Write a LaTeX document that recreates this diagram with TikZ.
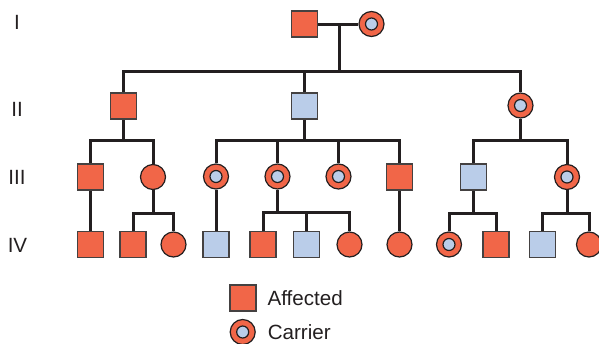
\documentclass[tikz,border=0pt]{standalone}
\usepackage{fontspec}
\setmainfont{Liberation Sans}
\usetikzlibrary{positioning, backgrounds}
\definecolor{pedRed}{RGB}{241, 102, 72}
\definecolor{pedBlue}{RGB}{186, 205, 233}
\definecolor{pedLine}{RGB}{35, 31, 32}
\tikzset{
    male/.style={rectangle, draw=pedLine!85, line width=0.6pt, minimum size=13pt, inner sep=0pt},
    female/.style={circle, draw=pedLine, line width=0.6pt, minimum size=12.5pt, inner sep=0pt},
    affected/.style={fill=pedRed},
    unaffected/.style={fill=pedBlue},
    carrier/.style={female, fill=pedRed,
        path picture={\filldraw[fill=pedBlue, draw=pedLine, line width=0.6pt]
            (path picture bounding box.center) circle (3pt);}},
    link/.style={line width=1.5pt, pedLine},
    genLabel/.style={font=\fontsize{10.3}{12}\selectfont, text=pedLine},
}

\begin{document}
\begin{tikzpicture}[x=0.5pt, y=-0.5pt]
    \useasboundingbox (0,0) rectangle (599,343);

    % Generation labels
    \node[genLabel] (genI) at (17,22) {I};
    \node[genLabel] (genII) at (17,109) {II};
    \node[genLabel] (genIII) at (17,177.5) {III};
    \node[genLabel] (genIV) at (17.5,245.5) {IV};

    % Generation I
    \node[male, affected] (i1) at (304.5,24) {};
    \node[carrier] (i2) at (371.5,24) {};

    % Generation II
    \node[male, affected] (ii1) at (123.5,106) {};
    \node[male, unaffected] (ii2) at (304.5,106) {};
    \node[carrier] (ii3) at (520.5,105.5) {};

    % Generation III
    \node[male, affected] (iii1) at (90.5,177) {};
    \node[female, affected] (iii2) at (153,177) {};
    \node[carrier] (iii3) at (216,176.5) {};
    \node[carrier] (iii4) at (277.5,176.5) {};
    \node[carrier] (iii5) at (338.5,176.5) {};
    \node[male, affected] (iii6) at (399.5,177) {};
    \node[male, unaffected] (iii7) at (473.5,177) {};
    \node[carrier] (iii8) at (567,177) {};

    % Generation IV
    \node[male, affected] (iv1) at (90.5,244.5) {};
    \node[male, affected] (iv2) at (133,244.5) {};
    \node[female, affected] (iv3) at (173.5,244.5) {};
    \node[male, unaffected] (iv4) at (216,244.5) {};
    \node[male, affected] (iv5) at (263,244.5) {};
    \node[male, unaffected] (iv6) at (306.5,244.5) {};
    \node[female, affected] (iv7) at (349.5,244.5) {};
    \node[female, affected] (iv8) at (399.5,244.5) {};
    \node[carrier] (iv9) at (449,244.5) {};
    \node[male, affected] (iv10) at (496,244.5) {};
    \node[male, unaffected] (iv11) at (542.5,244.5) {};
    \node[female, affected] (iv12) at (589,244.5) {};

    % Sibship points
    \coordinate (m1) at (339,24);
    \coordinate (s1) at (339,71);
    \coordinate (s2) at (123.5,140);
    \coordinate (s3) at (304.5,140);
    \coordinate (s4) at (520.5,140);
    \coordinate (s5) at (153,213);
    \coordinate (s6) at (277.5,212.5);
    \coordinate (s7) at (473.5,213);
    \coordinate (s8) at (567,213);

    % Lines
    \begin{scope}[on background layer]
        \draw[link] (i1) -- (i2);
        \draw[link] (m1) -- (s1);
        \draw[link] (ii1) |- (s1) -| (ii3);
        \draw[link] (ii2) -- (s1 -| ii2);

        \draw[link] (ii1) -- (s2);
        \draw[link] (iii1) |- (s2) -| (iii2);
        \draw[link] (ii2) -- (s3);
        \draw[link] (iii3) |- (s3) -| (iii6);
        \draw[link] (iii4) -- (s3 -| iii4);
        \draw[link] (iii5) -- (s3 -| iii5);
        \draw[link] (ii3) -- (s4);
        \draw[link] (iii7) |- (s4) -| (iii8);

        \draw[link] (iii1) -- (iv1);
        \draw[link] (iii2) -- (s5);
        \draw[link] (iv2) |- (s5) -| (iv3);
        \draw[link] (iii3) -- (iv4);
        \draw[link] (iii4) -- (s6);
        \draw[link] (iv5) |- (s6) -| (iv7);
        \draw[link] (iv6) -- (s6 -| iv6);
        \draw[link] (iii6) -- (iv8);
        \draw[link] (iii7) -- (s7);
        \draw[link] (iv9) |- (s7) -| (iv10);
        \draw[link] (iii8) -- (s8);
        \draw[link] (iv11) |- (s8) -| (iv12);
    \end{scope}

    % Legend
    \node[male, affected] (keyAff) at (243,298) {};
    \node[genLabel, inner sep=0pt, right=5.3pt of keyAff] (keyAffText) {Affected};
    \node[carrier] (keyCar) at (242.7,332) {};
    \node[genLabel, inner sep=0pt, right=5.8pt of keyCar] (keyCarText) {Carrier};

\end{tikzpicture}
\end{document}
